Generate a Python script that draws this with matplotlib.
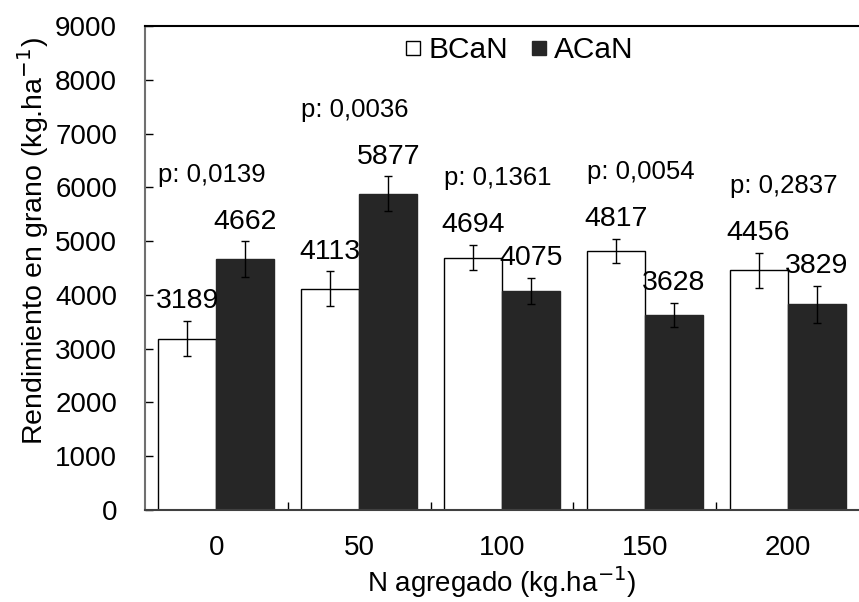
import numpy as np
import matplotlib.pyplot as plt
from matplotlib.ticker import FixedLocator
from matplotlib.lines import Line2D

plt.rcParams['font.family'] = ['Liberation Sans', 'DejaVu Sans']

# datos
n_agregado = ["0", "50", "100", "150", "200"]
bcan = [3189, 4113, 4694, 4817, 4456]
acan = [4662, 5877, 4075, 3628, 3829]
bcan_err = [330, 325, 240, 230, 325]
acan_err = [335, 325, 240, 225, 345]
p_valores = ["p: 0,0139", "p: 0,0036", "p: 0,1361", "p: 0,0054", "p: 0,2837"]

fig = plt.figure(figsize=(8.59, 6.02), dpi=100)
ax = fig.add_axes([0.1688, 0.1528, 0.8312, 0.804])

x = np.arange(len(n_agregado))
w = 0.406
ax.bar(x - w/2, bcan, w, color="white", edgecolor="black", linewidth=1.0,
       yerr=bcan_err, capsize=3, error_kw=dict(elinewidth=1.0, capthick=1.0))
ax.bar(x + w/2, acan, w, color="#262626", edgecolor="#262626", linewidth=1.0,
       yerr=acan_err, capsize=3, error_kw=dict(elinewidth=1.0, capthick=1.0))

# etiquetas de valores
for i in range(len(x)):
    ax.annotate(str(bcan[i]), (x[i] - w/2, bcan[i] + bcan_err[i]), xytext=(0, 9),
                textcoords="offset points", ha="center", va="baseline", fontsize=20.5)
    ax.annotate(str(acan[i]), (x[i] + w/2, acan[i] + acan_err[i]), xytext=(0, 9),
                textcoords="offset points", ha="center", va="baseline", fontsize=20.5)
    top = max(bcan[i] + bcan_err[i], acan[i] + acan_err[i])
    ax.annotate(p_valores[i], (x[i] - 0.03, top), xytext=(0, 48),
                textcoords="offset points", ha="center", va="center", fontsize=18.5)

ax.set_xlim(-0.5, 4.5)
ax.set_ylim(0, 9000)
ax.set_yticks(np.arange(0, 9001, 1000))
ax.set_xticks(x)
ax.set_xticklabels(n_agregado)
ax.xaxis.set_minor_locator(FixedLocator(x[:-1] + 0.5))
ax.tick_params(axis="x", which="major", length=0, pad=18, labelsize=20)
ax.tick_params(axis="x", which="minor", direction="in", length=6, width=1)
ax.tick_params(axis="y", direction="in", length=6, width=1, pad=20, labelsize=20)

ax.spines["right"].set_visible(False)
ax.spines["left"].set_color("#707070")
ax.spines["left"].set_linewidth(1.5)
ax.spines["top"].set_linewidth(1.5)
ax.spines["bottom"].set_linewidth(1.5)
ax.spines["bottom"].set_color("#404040")

ax.set_ylabel("Rendimiento en grano (kg.ha$^{-1}$)", fontsize=20.5, va="center")
ax.yaxis.set_label_coords(-0.157, 0.556)
ax.set_xlabel("N agregado (kg.ha$^{-1}$)", fontsize=20, va="baseline")
ax.xaxis.set_label_coords(0.5, -0.169)

handles = [Line2D([], [], marker="s", ls="none", markersize=10, mfc="white", mec="black", mew=1),
           Line2D([], [], marker="s", ls="none", markersize=10, mfc="#262626", mec="#262626", mew=1)]
ax.legend(handles, ["BCaN", "ACaN"], loc="center", bbox_to_anchor=(0.525, 0.95), ncol=2,
          frameon=False, fontsize=21.5, handlelength=0.5, handletextpad=0.25,
          columnspacing=0.8, borderpad=0)

fig.savefig("out.png", dpi=100)
